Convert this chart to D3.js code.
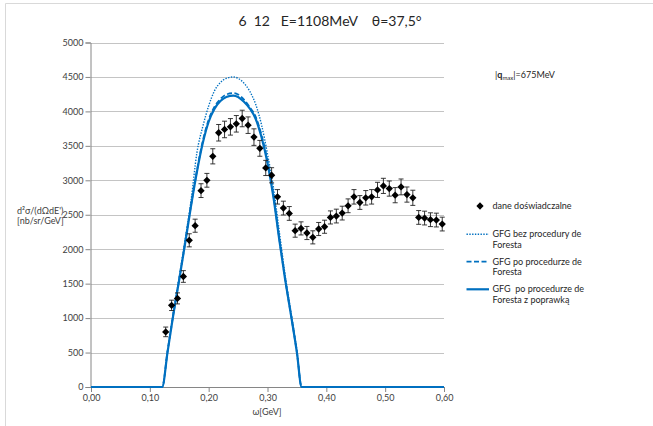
<!DOCTYPE html>
<html><head><meta charset="utf-8">
<script src="https://cdn.jsdelivr.net/npm/d3@7"></script>
<style>body{margin:0;background:#fff}svg{display:block;font-family:Lato,"Open Sans",sans-serif}text{white-space:pre}</style>
</head><body><svg id="c" width="653" height="426"></svg>
<script>
// experimental data
const omega = [0.127,0.137,0.147,0.157,0.167,0.177,0.187,0.197,0.207,0.217,0.227,0.237,0.247,0.257,0.267,0.277,0.287,0.297,0.307,0.317,0.327,0.337,0.347,0.357,0.367,0.377,0.387,0.397,0.407,0.417,0.427,0.437,0.447,0.457,0.467,0.477,0.487,0.497,0.507,0.517,0.527,0.537,0.547,0.557,0.567,0.577,0.587,0.597];
const sigma = [800,1185,1286,1604,2129,2341,2850,3000,3348,3690,3738,3776,3820,3897,3800,3627,3464,3179,3073,2760,2597,2519,2269,2302,2235,2172,2293,2326,2461,2481,2524,2630,2760,2678,2746,2760,2861,2919,2880,2784,2904,2793,2746,2461,2452,2428,2423,2365];
const errs  = [70,75,80,85,95,95,100,100,110,120,120,120,120,120,120,120,115,110,110,105,100,100,95,95,95,95,95,95,95,100,100,100,105,100,105,105,110,110,110,110,115,110,110,100,100,100,100,100];
// model curves
const wModel = [0,0.121,0.130,0.140,0.150,0.160,0.170,0.180,0.190,0.200,0.210,0.220,0.230,0.242,0.250,0.260,0.270,0.280,0.290,0.300,0.310,0.320,0.330,0.340,0.350,0.358,0.600];
const gfgBez   = [0,0,520,1080,1600,2140,2700,3400,3780,4080,4300,4420,4480,4500,4480,4410,4290,4100,3800,3380,2900,2260,1620,1080,520,0,0];
const gfgPo    = [0,0,510,1060,1570,2095,2640,3140,3570,3880,4070,4180,4245,4265,4245,4170,4060,3920,3650,3280,2790,2160,1570,1045,505,0,0];
const gfgPopr  = [0,0,500,1055,1560,2085,2625,3120,3540,3850,4040,4150,4210,4230,4210,4140,4040,3890,3620,3250,2760,2140,1560,1040,500,0,0];
const xTicks = [0,0.1,0.2,0.3,0.4,0.5,0.6];
const yTicks = [0,500,1000,1500,2000,2500,3000,3500,4000,4500,5000];
const legendLabels = [["dane doświadczalne"],["GFG bez procedury de","Foresta"],["GFG po procedurze de","Foresta"],["GFG  po procedurze de","Foresta z poprawką"]];

const svg = d3.select("#c");
const x = d3.scaleLinear().domain([0,0.6]).range([91,444]);
const y = d3.scaleLinear().domain([0,5000]).range([387,42.5]);
const blue = "#0070C0";

// chart frame
svg.append("path").attr("d","M5.5,430V3.5H660").attr("fill","none").attr("stroke","#d9d9d9").attr("stroke-width",1);

// gridlines
svg.append("g").selectAll("line").data(yTicks.filter(d=>d>0)).join("line")
  .attr("x1",x(0)).attr("x2",x(0.6)).attr("y1",d=>Math.round(y(d))+0.5).attr("y2",d=>Math.round(y(d))+0.5)
  .attr("stroke","#c4c4c4").attr("stroke-width",1);

// axes
const yAxis = d3.axisLeft(y).tickValues(yTicks).tickSize(5).tickPadding(2).tickFormat(d3.format("d"));
const gy = svg.append("g").attr("transform",`translate(${x(0)-0.5},0)`).call(yAxis);
const xAxis = d3.axisBottom(x).tickValues(xTicks).tickSize(5).tickPadding(3).tickFormat(d=>d3.format(".2f")(d).replace(".",","));
const gx = svg.append("g").attr("transform",`translate(0,${y(0)})`).call(xAxis);
[gx,gy].forEach(g=>{
  g.select(".domain").attr("stroke","#868686");
  g.selectAll(".tick line").attr("stroke","#868686");
  g.selectAll(".tick text").attr("fill","#404040").attr("font-size","9px").attr("font-family","Lato,sans-serif");
});

// model lines
const line = vals => d3.line().x((d,i)=>x(wModel[i])).y(d=>y(d)).curve(d3.curveMonotoneX)(vals);
svg.append("path").attr("d",line(gfgPopr)).attr("fill","none").attr("stroke",blue).attr("stroke-width",2.2);
svg.append("path").attr("d",line(gfgPo)).attr("fill","none").attr("stroke",blue).attr("stroke-width",1.8).attr("stroke-dasharray","5,2.5");
svg.append("path").attr("d",line(gfgBez)).attr("fill","none").attr("stroke",blue).attr("stroke-width",1.4).attr("stroke-dasharray","1.4,1.4");

// error bars
const eb = svg.append("g").attr("stroke","#222").attr("stroke-width",0.9);
omega.forEach((w,i)=>{
  const cx = x(w), y1 = y(sigma[i]+errs[i]), y2 = y(sigma[i]-errs[i]);
  eb.append("line").attr("x1",cx).attr("x2",cx).attr("y1",y1).attr("y2",y2);
  eb.append("line").attr("x1",cx-2.5).attr("x2",cx+2.5).attr("y1",y1).attr("y2",y1);
  eb.append("line").attr("x1",cx-2.5).attr("x2",cx+2.5).attr("y1",y2).attr("y2",y2);
});
const diamond = d3.symbol().type(d3.symbolDiamond2).size(34);
svg.append("g").selectAll("path").data(omega).join("path")
  .attr("d",diamond).attr("transform",(d,i)=>`translate(${x(d)},${y(sigma[i])})`).attr("fill","#000");

// title
svg.append("text").attr("x",330).attr("y",26).attr("text-anchor","middle").attr("font-size","14px").attr("fill","#262626")
  .text("6  12   E=1108MeV    θ=37,5°");

// axis titles
svg.append("text").attr("x",267).attr("y",415).attr("text-anchor","middle").attr("font-size","9px").attr("fill","#404040").text("ω[GeV]");
const yt = svg.append("text").attr("font-size","9px").attr("fill","#404040");
yt.append("tspan").attr("x",17).attr("y",213.5).text("d²σ/(dΩdE')");
yt.append("tspan").attr("x",17).attr("y",224).text("[nb/sr/GeV]");

// q_max annotation
const q = svg.append("text").attr("x",495).attr("y",78).attr("font-size","9px").attr("fill","#262626");
q.append("tspan").text("|");
q.append("tspan").attr("font-weight","bold").text("q");
q.append("tspan").attr("font-size","6px").attr("dy",2).text("max");
q.append("tspan").attr("dy",-2).text("|=675MeV");

// legend
const lg = svg.append("g").attr("font-size","9px").attr("fill","#262626");
const rowsY = [206,234.3,261.7,289.3];
lg.append("path").attr("d",diamond).attr("transform",`translate(480,${rowsY[0]})`).attr("fill","#000");
lg.append("line").attr("x1",466.5).attr("x2",489).attr("y1",rowsY[1]).attr("y2",rowsY[1]).attr("stroke",blue).attr("stroke-width",1.4).attr("stroke-dasharray","1.4,1.4");
lg.append("line").attr("x1",466.5).attr("x2",489).attr("y1",rowsY[2]).attr("y2",rowsY[2]).attr("stroke",blue).attr("stroke-width",1.8).attr("stroke-dasharray","5,2.5");
lg.append("line").attr("x1",466.5).attr("x2",489).attr("y1",rowsY[3]).attr("y2",rowsY[3]).attr("stroke",blue).attr("stroke-width",2.2);
legendLabels.forEach((lines,i)=>{
  const t = lg.append("text");
  lines.forEach((s,j)=>t.append("tspan").attr("x",492.5).attr("y",rowsY[i]+3+j*10.5).text(s));
});
</script></body></html>
